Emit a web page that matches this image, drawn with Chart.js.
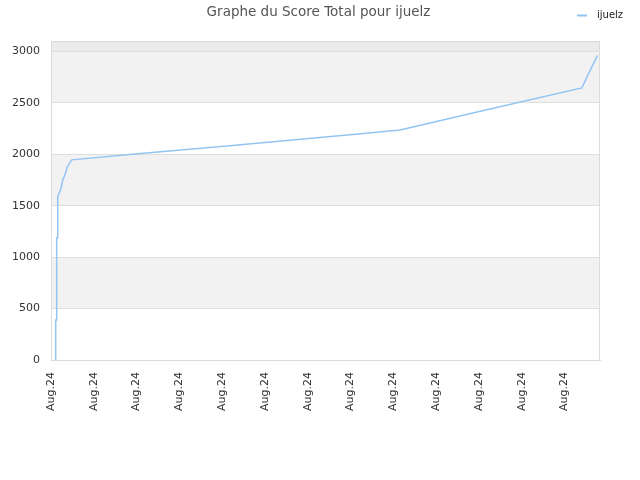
<!DOCTYPE html>
<html>
<head>
<meta charset="utf-8">
<script src="https://cdn.jsdelivr.net/npm/chart.js@4"></script>
<style>
  body { margin: 0; background: #fff; }
  #wrap { width: 640px; height: 480px; }
</style>
</head>
<body>
<div id="wrap"><canvas id="graphe" width="640" height="480"></canvas></div>
<script>
// DONNÉES
const joueur = 'ijuelz';
const positions = [0.11, 0.11, 0.133, 0.133, 0.157, 0.157, 0.187, 0.234, 0.273, 0.327, 0.381, 0.484, 1.96, 4.107, 6.99, 8.158, 10.26, 12.405, 12.77];
const scores = [0, 388, 388, 1187, 1187, 1585, 1618, 1667, 1748, 1803, 1877, 1945, 2001, 2080, 2190, 2236, 2440, 2644, 2961];
const etiquetteMois = 'Aug.24';
const yTicks = [0, 500, 1000, 1500, 2000, 2500, 3000];
const titre = 'Graphe du Score Total pour ' + joueur;

const couleurLigne = '#93c5f4';
const police = 'DejaVu Sans, Verdana, sans-serif';

// bandes grises alternées + cadre + titre + légende
const fondBandes = {
  id: 'fondBandes',
  beforeDraw(chart) {
    const { ctx, chartArea: a, scales: { y } } = chart;
    ctx.save();
    for (let i = 1; i < yTicks.length; i += 2) {
      const haut = y.getPixelForValue(yTicks[i + 1] !== undefined ? yTicks[i + 1] : y.max);
      const bas = y.getPixelForValue(yTicks[i]);
      ctx.fillStyle = '#f2f2f2';
      ctx.fillRect(a.left, haut, a.right - a.left, bas - haut);
    }
    const dernier = yTicks[yTicks.length - 1];
    ctx.fillStyle = '#ebebeb';
    ctx.fillRect(a.left, a.top, a.right - a.left, y.getPixelForValue(dernier) - a.top);
    ctx.restore();
  },
  afterDraw(chart) {
    const { ctx, chartArea: a } = chart;
    ctx.save();
    ctx.strokeStyle = '#dcdcdc';
    ctx.lineWidth = 1;
    ctx.strokeRect(a.left + 0.5, a.top + 0.5, a.right - a.left - 1, a.bottom - a.top);

    // titre
    ctx.font = '13.5px ' + police;
    ctx.fillStyle = '#555';
    ctx.textBaseline = 'middle';
    ctx.textAlign = 'center';
    ctx.fillText(titre, 318.5, 12);

    // légende
    const ds = chart.data.datasets[0];
    ctx.font = '10px ' + police;
    ctx.fillStyle = '#222';
    ctx.textAlign = 'left';
    ctx.fillText(ds.label, 597, 15);
    ctx.strokeStyle = ds.borderColor;
    ctx.lineWidth = 2;
    ctx.beginPath();
    ctx.moveTo(577, 15.5);
    ctx.lineTo(587, 15.5);
    ctx.stroke();
    ctx.restore();
  }
};

const graphe = new Chart(document.getElementById('graphe'), {
  type: 'line',
  data: {
    datasets: [{
      label: joueur,
      data: positions.map((x, i) => ({ x, y: scores[i] })),
      borderColor: couleurLigne,
      borderWidth: 1.5,
      pointRadius: 0,
      tension: 0,
      fill: false
    }]
  },
  options: {
    responsive: false,
    animation: false,
    layout: { padding: { left: 0, right: 40, top: 41, bottom: 0 } },
    plugins: {
      legend: { display: false },
      tooltip: { enabled: false },
      title: { display: false }
    },
    scales: {
      x: {
        type: 'linear',
        min: 0,
        max: 12.83,
        grid: { display: false },
        border: { display: true, color: '#dcdcdc' },
        afterFit: s => { s.height = 120; },
        ticks: {
          stepSize: 1,
          includeBounds: false,
          autoSkip: false,
          minRotation: 90,
          maxRotation: 90,
          padding: 4,
          color: '#333',
          font: { family: police, size: 11 },
          callback: () => etiquetteMois
        }
      },
      y: {
        min: 0,
        max: 3100,
        afterFit: s => { s.width = 51; },
        afterBuildTicks: s => { s.ticks = yTicks.map(v => ({ value: v })); },
        grid: { color: '#dedede', drawTicks: false },
        border: { display: true, color: '#dcdcdc' },
        ticks: {
          padding: 11,
          color: '#333',
          font: { family: police, size: 11 },
          callback: v => String(v)
        }
      }
    }
  },
  plugins: [fondBandes]
});
</script>
</body>
</html>
